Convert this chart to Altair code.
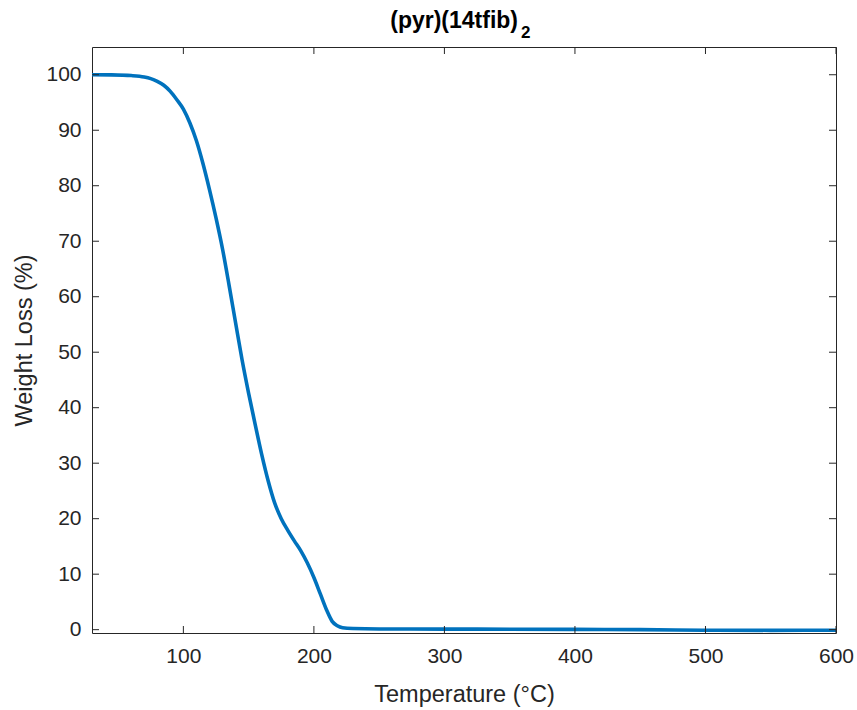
import altair as alt
import pandas as pd

# ---- data ----
temperature = [30, 45, 60, 70, 75, 80, 85, 90, 95, 100, 105, 110, 115, 120, 125,
               130, 135, 140, 145, 150, 155, 160, 165, 170, 175, 180, 185, 190,
               195, 200, 205, 210, 214, 218, 222, 230, 250, 300, 350, 400, 450,
               500, 550, 600]
weight = [100.0, 99.97, 99.85, 99.6, 99.3, 98.8, 98.1, 97.0, 95.5, 93.8, 91.3,
          88.1, 84.0, 79.3, 74.2, 68.6, 62.1, 55.3, 48.6, 42.6, 37.0, 31.6, 26.8,
          22.8, 20.0, 17.9, 16.0, 14.2, 12.0, 9.4, 6.4, 3.4, 1.5, 0.7, 0.35, 0.2,
          0.12, 0.1, 0.08, 0.05, 0.0, -0.1, -0.12, -0.1]
x_ticks = [100, 200, 300, 400, 500, 600]
y_ticks = [0, 10, 20, 30, 40, 50, 60, 70, 80, 90, 100]
title_main = "(pyr)(14tfib)"
title_sub = "2"
x_title = "Temperature (°C)"
y_title = "Weight Loss (%)"

FONT = "Liberation Sans"
INK = "#262626"
PW, PH = 744, 586
TICK = 7

df = pd.DataFrame({"T": temperature, "W": weight})
xscale = alt.Scale(domain=[30, 600], nice=False, zero=False)
yscale = alt.Scale(domain=[-0.6, 105], nice=False, zero=False)

line = alt.Chart(df).mark_line(
    color="#0072BD", strokeWidth=3.6, interpolate="monotone"
).encode(
    x=alt.X("T:Q", scale=xscale,
            axis=alt.Axis(values=x_ticks, title=x_title, grid=False, domain=False,
                          ticks=False, labelPadding=12, labelFontSize=21,
                          labelFont=FONT, labelColor=INK, titleFont=FONT,
                          titleFontSize=23.5, titleFontWeight="normal",
                          titleColor=INK, titleBaseline="alphabetic", titleY=68,
                          titleX=PW / 2, labelFlush=False)),
    y=alt.Y("W:Q", scale=yscale,
            axis=alt.Axis(values=y_ticks, title=y_title, grid=False, domain=False,
                          ticks=False, labelPadding=11, labelFontSize=21,
                          labelFont=FONT, labelColor=INK, titleFont=FONT,
                          titleFontSize=23.5, titleFontWeight="normal",
                          titleColor=INK, titleBaseline="alphabetic", titleX=-61,
                          titleY=PH / 2, titleAngle=-90, labelFlush=False)),
)

xt = pd.DataFrame({"T": x_ticks})
yt = pd.DataFrame({"W": y_ticks})

xtick_bottom = alt.Chart(xt).mark_rule(color=INK, strokeWidth=1).encode(
    x="T:Q", y=alt.value(PH), y2=alt.value(PH - TICK))
xtick_top = alt.Chart(xt).mark_rule(color=INK, strokeWidth=1).encode(
    x="T:Q", y=alt.value(0), y2=alt.value(TICK))
ytick_left = alt.Chart(yt).mark_rule(color=INK, strokeWidth=1).encode(
    y="W:Q", x=alt.value(0), x2=alt.value(TICK))
ytick_right = alt.Chart(yt).mark_rule(color=INK, strokeWidth=1).encode(
    y="W:Q", x=alt.value(PW), x2=alt.value(PW - TICK))

t_main = alt.Chart(alt.Data(values=[{"t": title_main}])).mark_text(
    align="right", baseline="alphabetic", fontSize=23, fontWeight="bold",
    font=FONT, color="#000000"
).encode(text="t:N", x=alt.value(426), y=alt.value(-19))
t_sub = alt.Chart(alt.Data(values=[{"t": title_sub}])).mark_text(
    align="left", baseline="alphabetic", fontSize=17, fontWeight="bold",
    font=FONT, color="#000000"
).encode(text="t:N", x=alt.value(429), y=alt.value(-9))

chart = alt.layer(
    line, xtick_bottom, xtick_top, ytick_left, ytick_right, t_main, t_sub
).properties(
    width=PW, height=PH,
    autosize=alt.AutoSizeParams(type="none"),
    padding={"left": 92, "top": 47, "right": 21, "bottom": 77},
    background="white",
).configure_view(stroke=INK, strokeWidth=1)

chart.save("out.html", embed_options={"renderer": "svg", "actions": False})
